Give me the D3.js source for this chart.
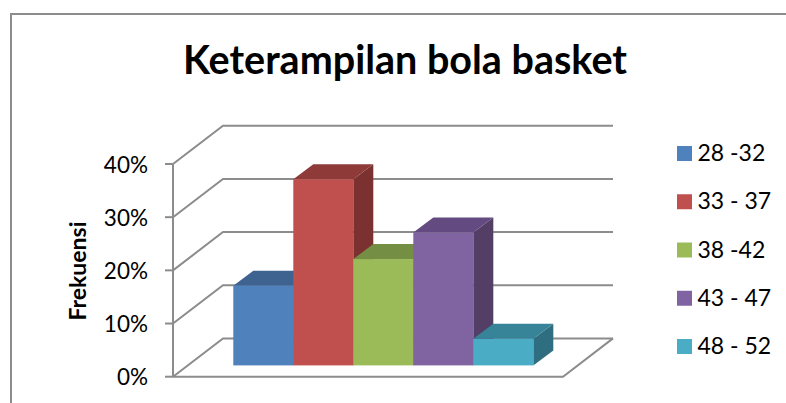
<!DOCTYPE html>
<html>
<head>
<meta charset="utf-8">
<script src="https://cdn.jsdelivr.net/npm/d3@7/dist/d3.min.js"></script>
<style>
html, body { margin: 0; padding: 0; background: #fff; overflow: hidden; }
svg { display: block; }
text { font-family: Lato, "Noto Sans", sans-serif; fill: #000; }
</style>
</head>
<body>
<svg id="chart" width="786" height="403"></svg>
<script>
// Score bands and the share of players in each band
const categories = ["28 -32", "33 - 37", "38 -42", "43 - 47", "48 - 52"];
const values = [15, 35, 20, 25, 5];
const frontColors = ["#4f81bd", "#c0504d", "#9bbb59", "#8064a2", "#4bacc6"];
const topColors = ["#3e6390", "#8d3a38", "#748e43", "#634a80", "#378398"];
const sideColors = ["#34557c", "#7a3130", "#647a3a", "#533f66", "#2f6e80"];
const axisTicks = [0, 10, 20, 30, 40];
const titleText = "Keterampilan bola basket";
const axisTitle = "Frekuensi";

const svg = d3.select("#chart");
const grid = "#8c8c8c";

// Oblique projection: the floor recedes up and to the right
const depth = { x: 50, y: -38.3 };
const barDepth = { x: 20, y: -15 };
const y = d3.scaleLinear().domain([0, 40]).range([376.7, 164]);
const x = d3.scaleBand().domain(categories).range([233.3, 533.3]).padding(0);
const axisX = 173;
const floorRight = 563;
const barBase = 365.4;
const barHeight = v => y(0) - y(v);
const path = pts => d3.line()(pts);

// Chart frame: open on the right, cut off by the page's lower edge
svg.append("path")
  .attr("d", path([[11, 403], [11, 14], [786, 14]]))
  .attr("fill", "none").attr("stroke", grid).attr("stroke-width", 2);

svg.append("text").attr("x", 405).attr("y", 74)
  .attr("text-anchor", "middle")
  .attr("font-size", 39.5).attr("font-weight", 700)
  .text(titleText);

// Gridlines on the back wall and side wall
const gridG = svg.append("g").attr("fill", "none").attr("stroke", grid).attr("stroke-width", 2);
axisTicks.forEach(t => {
  gridG.append("path").attr("d", path([
    [axisX, y(t)],
    [axisX + depth.x, y(t) + depth.y],
    [floorRight + depth.x, y(t) + depth.y]
  ]));
  gridG.append("path").attr("d", path([[axisX - 8, y(t)], [axisX, y(t)]]));
});
gridG.append("path").attr("d", path([[axisX, y(0)], [axisX, y(40)]]));
gridG.append("path").attr("d", path([
  [axisX, y(0)], [floorRight, y(0)], [floorRight + depth.x, y(0) + depth.y]
]));

// Value labels on the axis
svg.append("g").selectAll("text").data(axisTicks).join("text")
  .attr("x", 148).attr("y", d => y(d) + 8.5)
  .attr("text-anchor", "end").attr("font-size", 22.5)
  .text(d => d + "%");

svg.append("text")
  .attr("transform", "translate(86,271) rotate(-90)")
  .attr("text-anchor", "middle")
  .attr("font-size", 23).attr("font-weight", 700)
  .text(axisTitle);

// Bars painted left to right so each front face covers its neighbour's side
const bars = svg.append("g").selectAll("g")
  .data(categories.map((c, i) => ({ c, v: values[i], i })))
  .join("g");

bars.append("path").attr("fill", d => sideColors[d.i]).attr("d", d => {
  const r = x(d.c) + x.bandwidth(), t = barBase - barHeight(d.v);
  return path([[r, t], [r + barDepth.x, t + barDepth.y],
    [r + barDepth.x, barBase + barDepth.y], [r, barBase]]) + "Z";
});
bars.append("path").attr("fill", d => topColors[d.i]).attr("d", d => {
  const l = x(d.c), r = l + x.bandwidth(), t = barBase - barHeight(d.v);
  return path([[l, t], [l + barDepth.x, t + barDepth.y],
    [r + barDepth.x, t + barDepth.y], [r, t]]) + "Z";
});
bars.append("rect")
  .attr("x", d => x(d.c)).attr("width", x.bandwidth())
  .attr("y", d => barBase - barHeight(d.v)).attr("height", d => barHeight(d.v))
  .attr("fill", d => frontColors[d.i]);

// Legend
const legendY = d3.scalePoint().domain(categories).range([153.5, 346.5]);
const legend = svg.append("g").selectAll("g").data(categories).join("g")
  .attr("transform", d => `translate(677,${legendY(d)})`);
legend.append("rect").attr("y", -7.5).attr("width", 15).attr("height", 15)
  .attr("fill", (d, i) => frontColors[i]);
legend.append("text").attr("x", 20.5).attr("y", 7.5).attr("font-size", 23).text(d => d);
</script>
</body>
</html>
